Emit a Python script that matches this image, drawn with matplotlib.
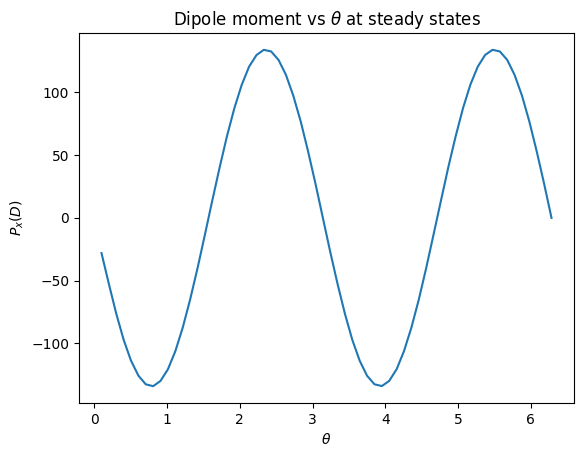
import matplotlib
matplotlib.use("Agg")
import matplotlib.pyplot as plt

theta = [0.100, 0.201, 0.303, 0.404, 0.505, 0.607, 0.708, 0.810, 0.911, 1.012,
         1.114, 1.215, 1.316, 1.418, 1.519, 1.620, 1.722, 1.823, 1.925, 2.026,
         2.127, 2.229, 2.330, 2.431, 2.533, 2.634, 2.735, 2.837, 2.938, 3.040,
         3.141, 3.242, 3.344, 3.445, 3.546, 3.648, 3.749, 3.851, 3.952, 4.053,
         4.155, 4.256, 4.357, 4.459, 4.560, 4.661, 4.763, 4.864, 4.966, 5.067,
         5.168, 5.270, 5.371, 5.472, 5.574, 5.675, 5.776, 5.878, 5.979, 6.080,
         6.182, 6.283]
px = [-28.0, -52.5, -76.3, -97.0, -113.6, -125.6, -132.5, -134.0, -129.8, -120.6,
      -106.2, -87.6, -65.4, -40.4, -13.8, 13.3, 39.9, 64.9, 87.3, 105.9,
      120.4, 129.7, 133.9, 132.6, 125.8, 114.0, 97.4, 76.9, 53.1, 27.3,
      0.2, -26.8, -52.7, -76.4, -97.1, -113.8, -125.7, -132.5, -133.9, -129.8,
      -120.5, -106.1, -87.5, -65.2, -40.2, -13.6, 13.5, 40.1, 65.0, 87.4,
      106.1, 120.5, 129.8, 133.9, 132.6, 125.8, 113.9, 97.3, 76.7, 53.0,
      27.1, 0.0]

W, H = 586, 458
fig = plt.figure(figsize=(W / 100, H / 100), dpi=100)
ax = fig.add_axes([79 / W, 1 - 403 / H, (574 - 79) / W, (403 - 33) / H])
ax.plot(theta, px)
ax.set_title(r"Dipole moment vs $\theta$ at steady states")
ax.set_xlabel(r"$\theta$")
ax.set_ylabel(r"$P_x(D)$")
fig.savefig("out.png", dpi=100)
